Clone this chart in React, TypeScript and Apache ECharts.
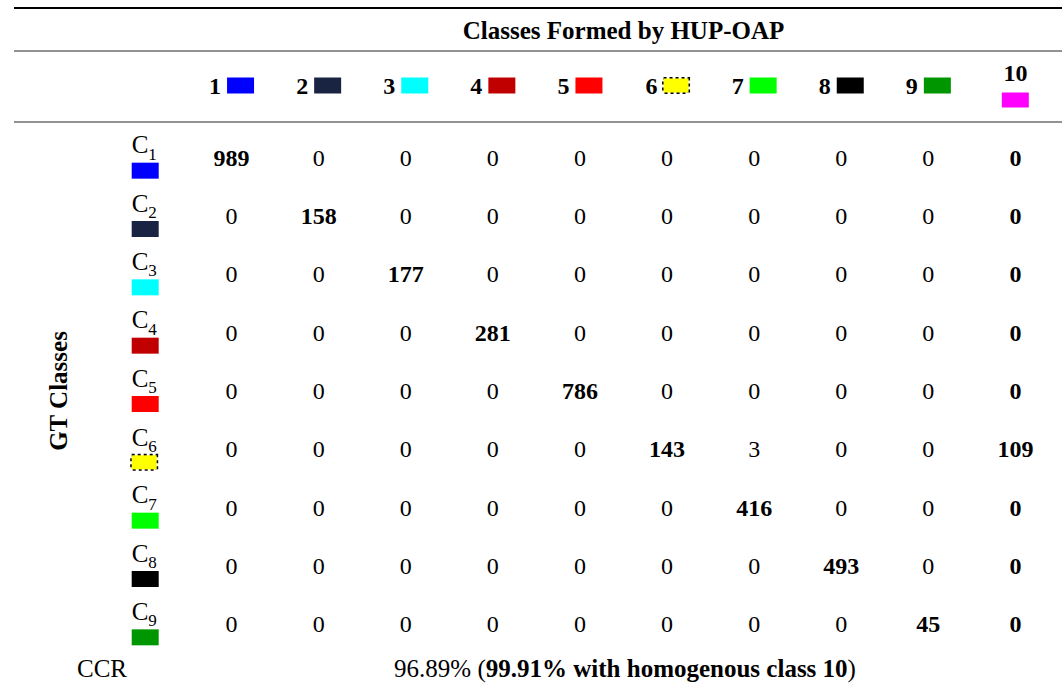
import React, { useEffect, useRef } from "react";
import * as echarts from "echarts";

// ---------- data ----------
const headerTitle = "Classes Formed by HUP-OAP";
const rowAxisTitle = "GT Classes";
const formedClasses = ["1", "2", "3", "4", "5", "6", "7", "8", "9", "10"];
const gtClasses = ["C1", "C2", "C3", "C4", "C5", "C6", "C7", "C8", "C9"];
const classColors = [
  "#0000FF",
  "#182441",
  "#00FFFF",
  "#C00000",
  "#FF0000",
  "#FFFF00",
  "#00FF00",
  "#000000",
  "#009600",
  "#FF00FF",
];
// rows: C1..C9, columns: classes 1..10
const rowC1 = [989, 0, 0, 0, 0, 0, 0, 0, 0, 0];
const rowC2 = [0, 158, 0, 0, 0, 0, 0, 0, 0, 0];
const rowC3 = [0, 0, 177, 0, 0, 0, 0, 0, 0, 0];
const rowC4 = [0, 0, 0, 281, 0, 0, 0, 0, 0, 0];
const rowC5 = [0, 0, 0, 0, 786, 0, 0, 0, 0, 0];
const rowC6 = [0, 0, 0, 0, 0, 143, 3, 0, 0, 109];
const rowC7 = [0, 0, 0, 0, 0, 0, 416, 0, 0, 0];
const rowC8 = [0, 0, 0, 0, 0, 0, 0, 493, 0, 0];
const rowC9 = [0, 0, 0, 0, 0, 0, 0, 0, 45, 0];
const matrix = [rowC1, rowC2, rowC3, rowC4, rowC5, rowC6, rowC7, rowC8, rowC9];
const ccrLabel = "CCR";
const ccrValue = "96.89%";
const ccrHomogeneous = "99.91%";
const homogeneousClass = "10";

const FONT = "'Liberation Serif', 'Times New Roman', serif";

export default function App() {
  const ref = useRef<HTMLDivElement>(null);

  useEffect(() => {
    if (!ref.current) return;
    const chart = echarts.init(ref.current, undefined, { renderer: "svg" });

    const xRich: any = {
      n: { fontSize: 24, fontWeight: "bold", fontFamily: FONT, color: "#000" },
      n10: { fontSize: 24, fontWeight: "bold", fontFamily: FONT, color: "#000", lineHeight: 29 },
      sp: { fontSize: 1, lineHeight: 26 },
    };
    const yRich: any = {
      c: { fontSize: 25, fontFamily: FONT, color: "#000", lineHeight: 36, align: "left" },
      s: { fontSize: 17, fontFamily: FONT, color: "#000", lineHeight: 22, verticalAlign: "bottom", align: "left" },
    };
    classColors.forEach((col, i) => {
      const box: any = { width: 27, height: 16, backgroundColor: col };
      if (i === 5) {
        box.borderColor = "#000";
        box.borderWidth = 1.5;
        box.borderType = "dotted";
        box.width = 25;
        box.height = 14;
      }
      xRich["b" + (i + 1)] = { ...box, height: i === 9 ? 15 : box.height };
      yRich["b" + (i + 1)] = { ...box, align: "left" };
    });

    const data: any[] = [];
    matrix.forEach((row, r) => {
      row.forEach((v, c) => {
        const bold = r === c || c === formedClasses.length - 1;
        data.push({
          value: [c, r, v],
          label: {
            show: true,
            color: "#000",
            fontSize: 24,
            fontFamily: FONT,
            fontWeight: bold ? "bold" : "normal",
            textBorderWidth: 0,
          },
        });
      });
    });

    const lineStyleGray = { stroke: "#6e6e6e", lineWidth: 1.5 };

    chart.setOption({
      animation: false,
      backgroundColor: "#ffffff",
      textStyle: { fontFamily: FONT },
      grid: { left: 188, top: 128.5, width: 871, height: 525 },
      xAxis: {
        type: "category",
        position: "top",
        data: formedClasses,
        name: headerTitle,
        nameLocation: "middle",
        nameGap: 98,
        nameTextStyle: {
          fontSize: 25,
          fontWeight: "bold",
          fontFamily: FONT,
          color: "#000",
          verticalAlign: "middle",
        },
        axisLine: { show: false },
        axisTick: { show: false },
        splitLine: { show: false },
        axisLabel: {
          interval: 0,
          margin: 43,
          verticalAlign: "middle",
          align: "center",
          fontSize: 24,
          fontFamily: FONT,
          color: "#000",
          formatter: (v: string, i: number) =>
            i === formedClasses.length - 1
              ? `{n10|${v}}\n{b${i + 1}|}{sp| }`
              : `{n|${v} }{b${i + 1}|}`,
          rich: xRich,
        },
      },
      yAxis: {
        type: "category",
        inverse: true,
        data: gtClasses,
        name: rowAxisTitle,
        nameLocation: "middle",
        nameRotate: 90,
        nameGap: 130,
        nameTextStyle: {
          fontSize: 25,
          fontWeight: "bold",
          fontFamily: FONT,
          color: "#000",
          verticalAlign: "middle",
        },
        axisLine: { show: false },
        axisTick: { show: false },
        splitLine: { show: false },
        axisLabel: {
          interval: 0,
          margin: 56.3,
          align: "left",
          verticalAlign: "middle",
          padding: [0, 0, 10, 0],
          fontSize: 25,
          fontFamily: FONT,
          color: "#000",
          formatter: (v: string, i: number) =>
            `{c|${v.charAt(0)}}{s|${v.slice(1)}}\n{b${i + 1}|}`,
          rich: yRich,
        },
      },
      series: [
        {
          type: "scatter",
          data,
          symbol: "rect",
          symbolSize: 1,
          itemStyle: { color: "rgba(255,255,255,0)", opacity: 1 },
          label: {
            show: true,
            position: "inside",
            fontSize: 24,
            fontFamily: FONT,
            color: "#000",
            textBorderWidth: 0,
            formatter: (p: any) => String(p.value[2]),
          },
          emphasis: { disabled: true },
        },
      ],
      graphic: [
        { type: "line", shape: { x1: 14, y1: 8, x2: 1062, y2: 8 }, style: { stroke: "#000", lineWidth: 2.2 } },
        { type: "line", shape: { x1: 14, y1: 51, x2: 1062, y2: 51 }, style: lineStyleGray },
        { type: "line", shape: { x1: 14, y1: 122, x2: 1062, y2: 122 }, style: lineStyleGray },
        {
          type: "text",
          x: 77,
          y: 668,
          style: {
            text: ccrLabel,
            fill: "#000",
            fontSize: 25,
            fontFamily: FONT,
            verticalAlign: "middle",
            align: "left",
          },
        },
        {
          type: "text",
          x: 625,
          y: 668,
          style: {
            text: `${ccrValue} ({b|${ccrHomogeneous} with homogenous class ${homogeneousClass}})`,
            fill: "#000",
            fontSize: 25,
            fontFamily: FONT,
            verticalAlign: "middle",
            align: "center",
            rich: {
              b: { fontSize: 25, fontWeight: "bold", fontFamily: FONT, fill: "#000" },
            },
          },
        },
      ],
    });

    return () => chart.dispose();
  }, []);

  return (
    <div
      ref={ref}
      style={{ position: "absolute", left: 0, top: 0, width: 1062, height: 685, background: "#fff" }}
    />
  );
}
